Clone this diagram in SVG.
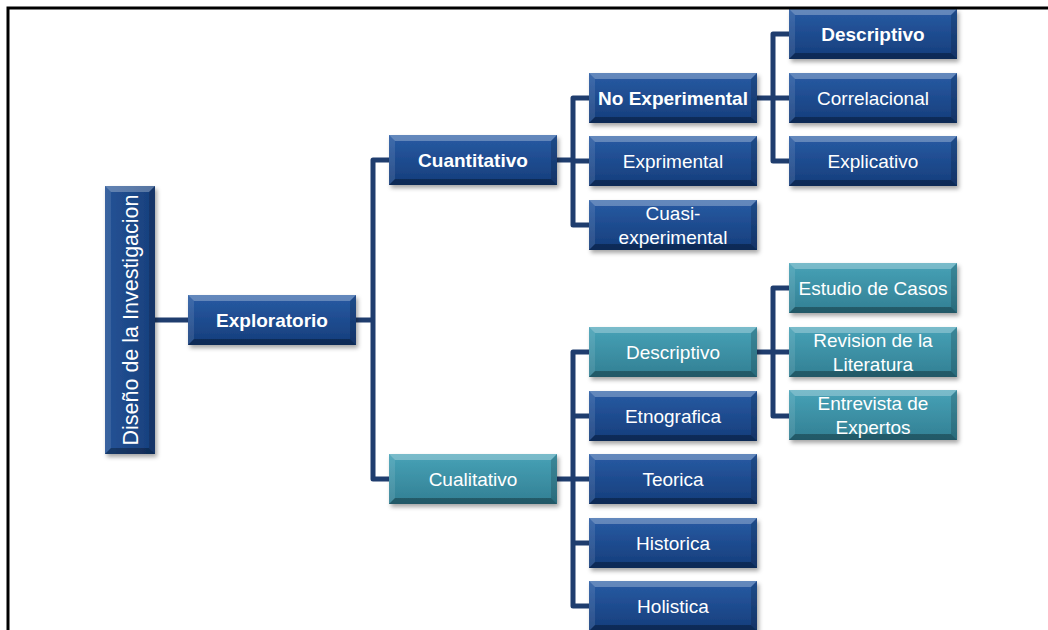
<svg xmlns="http://www.w3.org/2000/svg" xmlns:xlink="http://www.w3.org/1999/xlink" width="1048" height="630" viewBox="0 0 1048 630">
  <style>
    .lbl { fill: #ffffff; font-family: "Liberation Sans", Arial, sans-serif; font-size: 19px; text-anchor: middle; }
    .b { font-weight: bold; }
    .conn { fill: none; stroke: #1f3d6e; stroke-width: 5; stroke-linejoin: round; stroke-linecap: butt; }
    .frame { fill: none; stroke: #000000; stroke-width: 3; }
    .hi { fill: #ffffff; fill-opacity: 0.28; }
    .hs { fill: #ffffff; fill-opacity: 0.10; }
    .sd { fill: #000000; fill-opacity: 0.16; }
    .lo { fill: #000000; fill-opacity: 0.30; }
  </style>
  <defs>
    <linearGradient id="gBlue" x1="0" y1="0" x2="0" y2="1">
      <stop offset="0" stop-color="#285ba4"/>
      <stop offset="1" stop-color="#153d7b"/>
    </linearGradient>
    <linearGradient id="gTeal" x1="0" y1="0" x2="0" y2="1">
      <stop offset="0" stop-color="#47a2b7"/>
      <stop offset="1" stop-color="#327f93"/>
    </linearGradient>
    <linearGradient id="gRoot" x1="0" y1="0" x2="1" y2="0">
      <stop offset="0" stop-color="#245396"/>
      <stop offset="1" stop-color="#173f7c"/>
    </linearGradient>
    <filter id="shadow" x="-10%" y="-20%" width="125%" height="150%">
      <feDropShadow dx="2" dy="3" stdDeviation="2" flood-color="#000000" flood-opacity="0.35"/>
    </filter>
    <!-- bevelled box 168x50, two fills -->
    <g id="boxBlue">
      <rect width="168" height="50" fill="url(#gBlue)"/>
      <polygon class="hi" points="0,0 168,0 162,6 6,6"/>
      <polygon class="hs" points="0,0 6,6 6,44 0,50"/>
      <polygon class="sd" points="168,0 168,50 162,44 162,6"/>
      <polygon class="lo" points="0,50 168,50 162,44 6,44"/>
    </g>
    <g id="boxTeal">
      <rect width="168" height="50" fill="url(#gTeal)"/>
      <polygon class="hi" points="0,0 168,0 162,6 6,6"/>
      <polygon class="hs" points="0,0 6,6 6,44 0,50"/>
      <polygon class="sd" points="168,0 168,50 162,44 162,6"/>
      <polygon class="lo" points="0,50 168,50 162,44 6,44"/>
    </g>
  </defs>

  <rect width="1048" height="630" fill="#ffffff"/>

  <!-- connectors -->
  <g id="connectors">
    <path class="conn" d="M155 320 H188"/>
    <path class="conn" d="M356 320 H373"/>
    <path class="conn" d="M389 160 H373 V479 H389"/>
    <path class="conn" d="M557 160 H573"/>
    <path class="conn" d="M589 98 H573 V225 H589 M573 161 H589"/>
    <path class="conn" d="M757 98 H773"/>
    <path class="conn" d="M789 34 H773 V161 H789 M773 98 H789"/>
    <path class="conn" d="M557 479 H573"/>
    <path class="conn" d="M589 352 H573 V606 H589 M573 416 H589 M573 479 H589 M573 543 H589"/>
    <path class="conn" d="M757 352 H773"/>
    <path class="conn" d="M789 288 H773 V416 H789 M773 352 H789"/>
  </g>

  <!-- root -->
  <g id="n-root">
    <g filter="url(#shadow)">
      <rect x="105" y="186" width="50" height="268" fill="url(#gRoot)"/>
      <polygon class="hi" points="105,186 155,186 149,192 111,192"/>
      <polygon class="hs" points="105,186 111,192 111,448 105,454"/>
      <polygon class="sd" points="155,186 155,454 149,448 149,192"/>
      <polygon class="lo" points="105,454 155,454 149,448 111,448"/>
    </g>
    <text class="lbl" style="font-size:21.5px" transform="translate(138 320) rotate(-90)" x="0" y="0">Diseño de la Investigacion</text>
  </g>

  <g id="n-exploratorio" transform="translate(188 295)">
    <use href="#boxBlue" filter="url(#shadow)"/>
    <text class="lbl b" x="84" y="32">Exploratorio</text>
  </g>

  <g id="n-cuantitativo" transform="translate(389 135)">
    <use href="#boxBlue" filter="url(#shadow)"/>
    <text class="lbl b" x="84" y="32">Cuantitativo</text>
  </g>

  <g id="n-noexperimental" transform="translate(589 73)">
    <use href="#boxBlue" filter="url(#shadow)"/>
    <text class="lbl b" x="84" y="32">No Experimental</text>
  </g>

  <g id="n-exprimental" transform="translate(589 136)">
    <use href="#boxBlue" filter="url(#shadow)"/>
    <text class="lbl" x="84" y="32">Exprimental</text>
  </g>

  <g id="n-cuasi" transform="translate(589 200)">
    <use href="#boxBlue" filter="url(#shadow)"/>
    <text class="lbl" x="84" y="19.5">Cuasi-</text>
    <text class="lbl" x="84" y="43.5">experimental</text>
  </g>

  <g id="n-descriptivo-cuant" transform="translate(789 9)">
    <use href="#boxBlue" filter="url(#shadow)"/>
    <text class="lbl b" x="84" y="32">Descriptivo</text>
  </g>

  <g id="n-correlacional" transform="translate(789 73)">
    <use href="#boxBlue" filter="url(#shadow)"/>
    <text class="lbl" x="84" y="32">Correlacional</text>
  </g>

  <g id="n-explicativo" transform="translate(789 136)">
    <use href="#boxBlue" filter="url(#shadow)"/>
    <text class="lbl" x="84" y="32">Explicativo</text>
  </g>

  <g id="n-cualitativo" transform="translate(389 454)">
    <use href="#boxTeal" filter="url(#shadow)"/>
    <text class="lbl" x="84" y="32">Cualitativo</text>
  </g>

  <g id="n-descriptivo-cual" transform="translate(589 327)">
    <use href="#boxTeal" filter="url(#shadow)"/>
    <text class="lbl" x="84" y="32">Descriptivo</text>
  </g>

  <g id="n-etnografica" transform="translate(589 391)">
    <use href="#boxBlue" filter="url(#shadow)"/>
    <text class="lbl" x="84" y="32">Etnografica</text>
  </g>

  <g id="n-teorica" transform="translate(589 454)">
    <use href="#boxBlue" filter="url(#shadow)"/>
    <text class="lbl" x="84" y="32">Teorica</text>
  </g>

  <g id="n-historica" transform="translate(589 518)">
    <use href="#boxBlue" filter="url(#shadow)"/>
    <text class="lbl" x="84" y="32">Historica</text>
  </g>

  <g id="n-holistica" transform="translate(589 581)">
    <use href="#boxBlue" filter="url(#shadow)"/>
    <text class="lbl" x="84" y="32">Holistica</text>
  </g>

  <g id="n-estudio" transform="translate(789 263)">
    <use href="#boxTeal" filter="url(#shadow)"/>
    <text class="lbl" x="84" y="32">Estudio de Casos</text>
  </g>

  <g id="n-revision" transform="translate(789 327)">
    <use href="#boxTeal" filter="url(#shadow)"/>
    <text class="lbl" x="84" y="19.5">Revision de la</text>
    <text class="lbl" x="84" y="43.5">Literatura</text>
  </g>

  <g id="n-entrevista" transform="translate(789 390)">
    <use href="#boxTeal" filter="url(#shadow)"/>
    <text class="lbl" x="84" y="19.5">Entrevista de</text>
    <text class="lbl" x="84" y="43.5">Expertos</text>
  </g>

  <!-- page frame (left and top edges) -->
  <path class="frame" d="M8 630 V8 H1048"/>
</svg>
